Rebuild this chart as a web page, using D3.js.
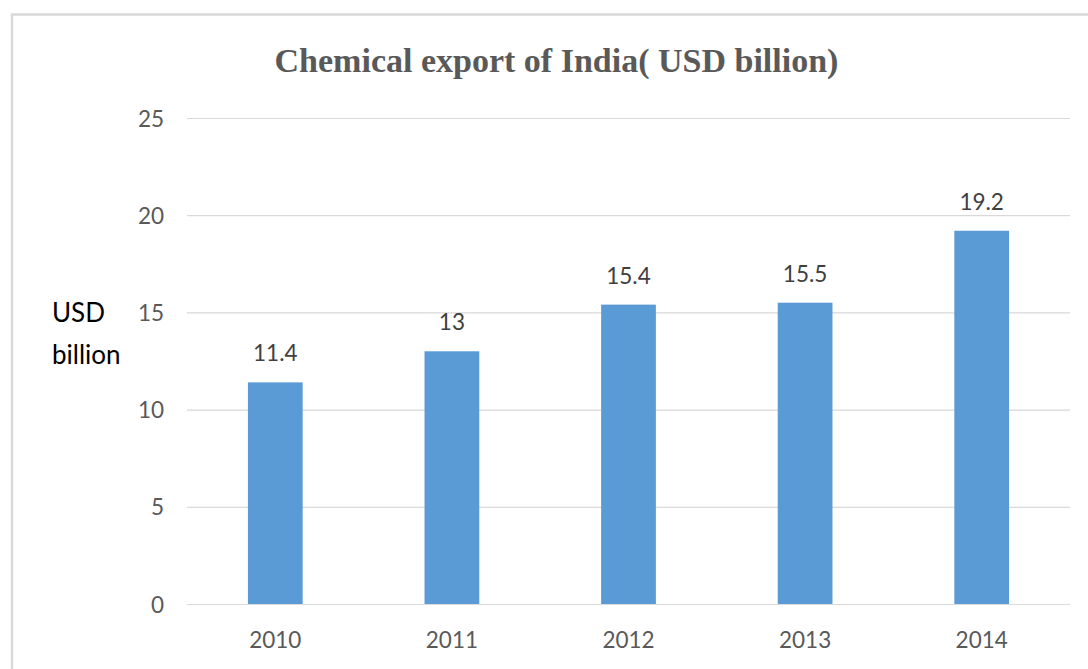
<!DOCTYPE html>
<html>
<head>
<meta charset="utf-8">
<script src="https://cdn.jsdelivr.net/npm/d3@7"></script>
<style>
  html, body { margin: 0; padding: 0; background: #fff; }
  svg { display: block; }
</style>
</head>
<body>
<svg id="chart" width="1088" height="669"></svg>
<script>
// Chemical exports of India, USD billion
const years = ["2010", "2011", "2012", "2013", "2014"];
const exportValues = [11.4, 13, 15.4, 15.5, 19.2];
const yTicks = [0, 5, 10, 15, 20, 25];
const titleText = "Chemical export of India( USD billion)";
const yAxisTitle = ["USD", "billion"];

const svg = d3.select("#chart");
const W = 1088, H = 669;

// Frame around the chart area
svg.append("rect")
  .attr("x", 12).attr("y", 14.5)
  .attr("width", W + 20).attr("height", H + 20)
  .attr("fill", "none")
  .attr("stroke", "#d9d9d9")
  .attr("stroke-width", 2.5);

const plot = { left: 187, right: 1070, top: 118, bottom: 604 };

const x = d3.scaleBand()
  .domain(years)
  .range([plot.left, plot.right])
  .paddingInner(0.69)
  .paddingOuter(0.345);

const y = d3.scaleLinear()
  .domain([0, 25])
  .range([plot.bottom, plot.top]);

const labelFont = "Lato, 'Open Sans', sans-serif";

// Horizontal gridlines with tick labels
const yAxis = d3.axisLeft(y)
  .tickValues(yTicks)
  .tickSize(-(plot.right - plot.left))
  .tickPadding(23)
  .tickFormat(d3.format("d"));

const gy = svg.append("g")
  .attr("transform", `translate(${plot.left},0)`)
  .call(yAxis);
gy.select(".domain").remove();
gy.selectAll(".tick line")
  .attr("stroke", "#d9d9d9")
  .attr("stroke-width", 1.2);
gy.selectAll(".tick text")
  .attr("fill", "#595959")
  .attr("font-family", labelFont)
  .attr("font-size", 22.5)
  .attr("dy", "0.36em");

// Category labels along the bottom
const xAxis = d3.axisBottom(x).tickSize(0).tickPadding(0);
const gx = svg.append("g")
  .attr("transform", `translate(0,${plot.bottom})`)
  .call(xAxis);
gx.select(".domain").remove();
gx.selectAll(".tick text")
  .attr("fill", "#595959")
  .attr("font-family", labelFont)
  .attr("font-size", 22.5)
  .attr("y", 44)
  .attr("dy", 0);

// Bars
const data = years.map((yr, i) => ({ year: yr, value: exportValues[i] }));
svg.append("g")
  .selectAll("rect")
  .data(data)
  .join("rect")
  .attr("x", d => x(d.year))
  .attr("y", d => y(d.value))
  .attr("width", x.bandwidth())
  .attr("height", d => y(0) - y(d.value))
  .attr("fill", "#5b9bd5");

// Value labels above bars
svg.append("g")
  .selectAll("text")
  .data(data)
  .join("text")
  .attr("x", d => x(d.year) + x.bandwidth() / 2)
  .attr("y", d => y(d.value) - 21)
  .attr("text-anchor", "middle")
  .attr("fill", "#404040")
  .attr("font-family", labelFont)
  .attr("font-size", 22.5)
  .text(d => d3.format("~g")(d.value));

// Title
svg.append("text")
  .attr("x", 556.5)
  .attr("y", 72)
  .attr("text-anchor", "middle")
  .attr("fill", "#595959")
  .attr("font-family", "'Liberation Serif', 'Times New Roman', serif")
  .attr("font-weight", "bold")
  .attr("font-size", 34)
  .text(titleText);

// Vertical axis title
const yt = svg.append("text")
  .attr("x", 52)
  .attr("y", 322)
  .attr("fill", "#000")
  .attr("font-family", labelFont)
  .attr("font-size", 26);
yt.selectAll("tspan")
  .data(yAxisTitle)
  .join("tspan")
  .attr("x", 52)
  .attr("dy", (d, i) => i === 0 ? 0 : 42)
  .text(d => d);
</script>
</body>
</html>
